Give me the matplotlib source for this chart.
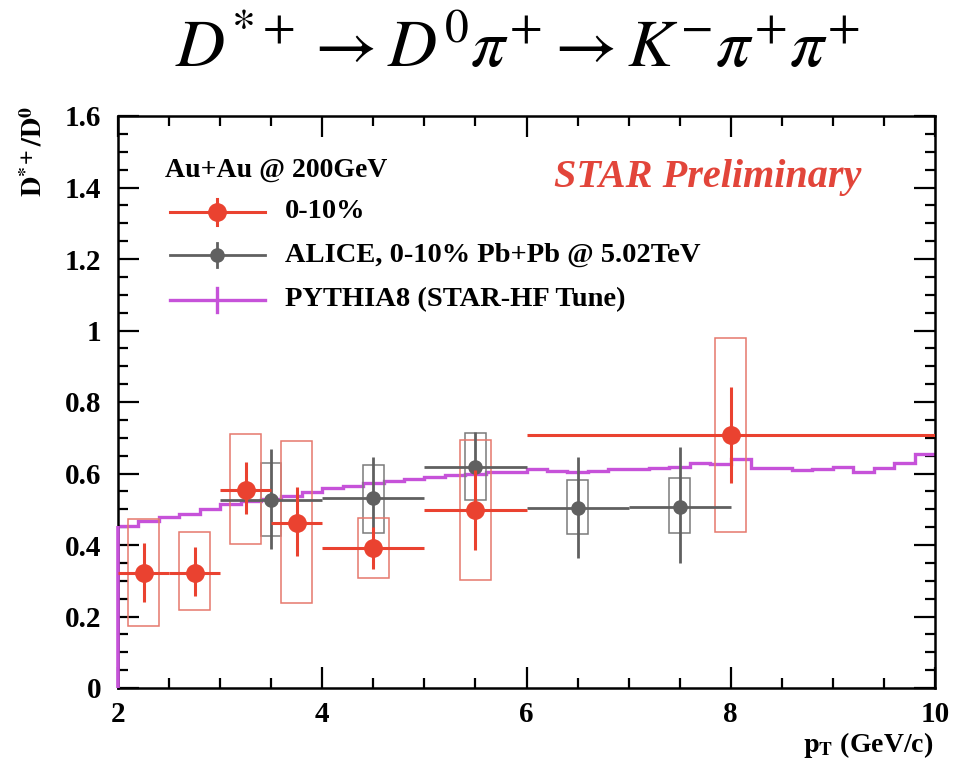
import numpy as np
import matplotlib
matplotlib.use("Agg")
import matplotlib.pyplot as plt
from matplotlib.patches import Rectangle
from matplotlib.ticker import MultipleLocator, FuncFormatter

plt.rcParams['mathtext.fontset'] = 'stix'
plt.rcParams['font.family'] = ['Liberation Serif', 'DejaVu Serif']

# ---------------- data ----------------
# STAR Au+Au 200 GeV, 0-10%
star_x = [2.25, 2.75, 3.25, 3.75, 4.5, 5.5, 8.0]
star_xlo = [2.0, 2.5, 3.0, 3.5, 4.0, 5.0, 6.0]
star_xhi = [2.5, 3.0, 3.5, 4.0, 5.0, 6.0, 10.0]
star_y = [0.322, 0.322, 0.554, 0.461, 0.392, 0.498, 0.708]
star_stat_lo = [0.241, 0.257, 0.486, 0.369, 0.332, 0.386, 0.574]
star_stat_hi = [0.406, 0.394, 0.631, 0.563, 0.451, 0.610, 0.841]
star_sys_lo = [0.174, 0.218, 0.402, 0.239, 0.309, 0.302, 0.437]
star_sys_hi = [0.473, 0.435, 0.710, 0.692, 0.476, 0.694, 0.978]

# ALICE Pb+Pb 5.02 TeV, 0-10%
alice_x = [3.5, 4.5, 5.5, 6.5, 7.5]
alice_xlo = [3.0, 4.0, 5.0, 6.0, 7.0]
alice_xhi = [4.0, 5.0, 6.0, 7.0, 8.0]
alice_y = [0.526, 0.531, 0.619, 0.504, 0.507]
alice_stat_lo = [0.388, 0.420, 0.520, 0.363, 0.350]
alice_stat_hi = [0.669, 0.647, 0.717, 0.647, 0.675]
alice_sys_lo = [0.425, 0.434, 0.526, 0.431, 0.434]
alice_sys_hi = [0.628, 0.624, 0.712, 0.582, 0.587]

# PYTHIA8 (STAR-HF Tune) histogram
pythia_edges = [2.0, 2.2, 2.4, 2.6, 2.8, 3.0, 3.2, 3.4, 3.6, 3.8,
                4.0, 4.2, 4.4, 4.6, 4.8, 5.0, 5.2, 5.4, 5.6, 5.8,
                6.0, 6.2, 6.4, 6.6, 6.8, 7.0, 7.2, 7.4, 7.6, 7.8,
                8.0, 8.2, 8.4, 8.6, 8.8, 9.0, 9.2, 9.4, 9.6, 9.8, 10.0]
pythia_vals = [0.453, 0.468, 0.477, 0.487, 0.500, 0.515, 0.522, 0.528, 0.537, 0.547,
               0.559, 0.565, 0.573, 0.579, 0.584, 0.589, 0.596, 0.600, 0.605, 0.605,
               0.612, 0.608, 0.603, 0.608, 0.613, 0.613, 0.614, 0.619, 0.630, 0.626,
               0.640, 0.614, 0.614, 0.610, 0.613, 0.617, 0.605, 0.614, 0.628, 0.654]

xticks = [2, 4, 6, 8, 10]
yticks = [0, 0.2, 0.4, 0.6, 0.8, 1.0, 1.2, 1.4, 1.6]

# ---------------- style ----------------
RED = "#ea4230"
RED_BOX = "#e6786c"
GRAY = "#606060"
GRAY_BOX = "#7a7a7a"
MAG = "#c652d9"

W, H = 955, 765
fig = plt.figure(figsize=(W / 100, H / 100), dpi=100)
ax = fig.add_axes([118 / W, 1 - 688 / H, 817 / W, 572 / H])
ax.set_xlim(2, 10)
ax.set_ylim(0, 1.6)

# PYTHIA
ax.stairs(pythia_vals, pythia_edges, baseline=None, color=MAG, lw=2.4, zorder=2)
ax.vlines(pythia_edges[0], 0, pythia_vals[0], color=MAG, lw=2.6, zorder=3,
          clip_on=False)

# ALICE systematic boxes
for x, lo, hi in zip(alice_x, alice_sys_lo, alice_sys_hi):
    ax.add_patch(Rectangle((x - 0.1, lo), 0.2, hi - lo, fill=False,
                           ec=GRAY_BOX, lw=1.1, zorder=3))
# STAR systematic boxes
for x, lo, hi in zip(star_x, star_sys_lo, star_sys_hi):
    ax.add_patch(Rectangle((x - 0.15, lo), 0.3, hi - lo, fill=False,
                           ec=RED_BOX, lw=1.1, zorder=3))

ax_x = np.array(alice_x)
ax_y = np.array(alice_y)
ax.errorbar(ax_x, ax_y,
            xerr=[ax_x - np.array(alice_xlo), np.array(alice_xhi) - ax_x],
            yerr=[ax_y - np.array(alice_stat_lo), np.array(alice_stat_hi) - ax_y],
            fmt='o', color=GRAY, ms=9.5, elinewidth=2.0, capsize=0, zorder=4)

sx = np.array(star_x)
sy = np.array(star_y)
ax.errorbar(sx, sy,
            xerr=[sx - np.array(star_xlo), np.array(star_xhi) - sx],
            yerr=[sy - np.array(star_stat_lo), np.array(star_stat_hi) - sy],
            fmt='o', color=RED, ms=12.5, elinewidth=2.2, capsize=0, zorder=5)

# ---------------- axes ----------------
ax.set_xticks(xticks)
ax.set_yticks(yticks)
ax.xaxis.set_minor_locator(MultipleLocator(0.5))
ax.yaxis.set_minor_locator(MultipleLocator(0.05))
ax.yaxis.set_major_formatter(FuncFormatter(lambda v, p: "%g" % v))
ax.xaxis.set_major_formatter(FuncFormatter(lambda v, p: "%g" % v))
ax.tick_params(which='both', direction='in', top=True, right=True, width=1.6)
ax.tick_params(which='major', length=15)
ax.tick_params(which='minor', length=7)
ax.tick_params(axis='y', pad=12)
ax.tick_params(axis='x', pad=9)
for lab in ax.get_xticklabels() + ax.get_yticklabels():
    lab.set_fontsize(21)
    lab.set_fontweight('bold')
for s in ax.spines.values():
    s.set_linewidth(1.8)

# axis titles
fig.text(34 / W, 1 - 106 / H, r"$\mathbf{D}^{\mathbf{*+}}\mathbf{/D}^{\mathbf{0}}$",
         rotation=90, ha='center', va='top', fontsize=20)
fig.text(933 / W, 1 - 752 / H, r"$\mathbf{p}_{\mathbf{T}}$ (GeV/c)",
         ha='right', va='baseline', fontsize=20, fontweight='bold')

# title
fig.text(518 / W, 1 - 50 / H,
         r"$D^{*+} \rightarrow D^{0}\pi^{+} \rightarrow K^{-}\pi^{+}\pi^{+}$",
         ha='center', va='center', fontsize=49)

# STAR Preliminary
fig.text(708 / W, 1 - 177 / H, "STAR Preliminary", color="#e2453a",
         ha='center', va='center', fontsize=29, fontweight='bold', fontstyle='italic')

# ---------------- legend (manual) ----------------
def fx(px):
    return (px - 118) / 817.0

def fy(py):
    return (688 - py) / 572.0

tr = ax.transAxes
ax.text(fx(165), fy(170), "Au+Au @ 200GeV", transform=tr, ha='left', va='center',
        fontsize=20, fontweight='bold')
entries = [
    (212, RED, 12.5, 2.2, 13, "0-10%"),
    (255, GRAY, 9.5, 2.0, 12, "ALICE, 0-10% Pb+Pb @ 5.02TeV"),
    (300, MAG, 0, 2.4, 12, "PYTHIA8 (STAR-HF Tune)"),
]
for py, col, ms, lw, half, label in entries:
    ax.plot([fx(170), fx(265)], [fy(py), fy(py)], color=col, lw=lw, transform=tr,
            clip_on=False, zorder=6)
    ax.plot([fx(217), fx(217)], [fy(py - half), fy(py + half)], color=col, lw=lw,
            transform=tr, clip_on=False, zorder=6)
    if ms > 0:
        ax.plot([fx(217)], [fy(py)], 'o', color=col, ms=ms, transform=tr,
                clip_on=False, zorder=7)
    ax.text(fx(285), fy(py), label, transform=tr, ha='left', va='center',
            fontsize=20.5, fontweight='bold')

fig.savefig("out.png", dpi=100, facecolor='white')
